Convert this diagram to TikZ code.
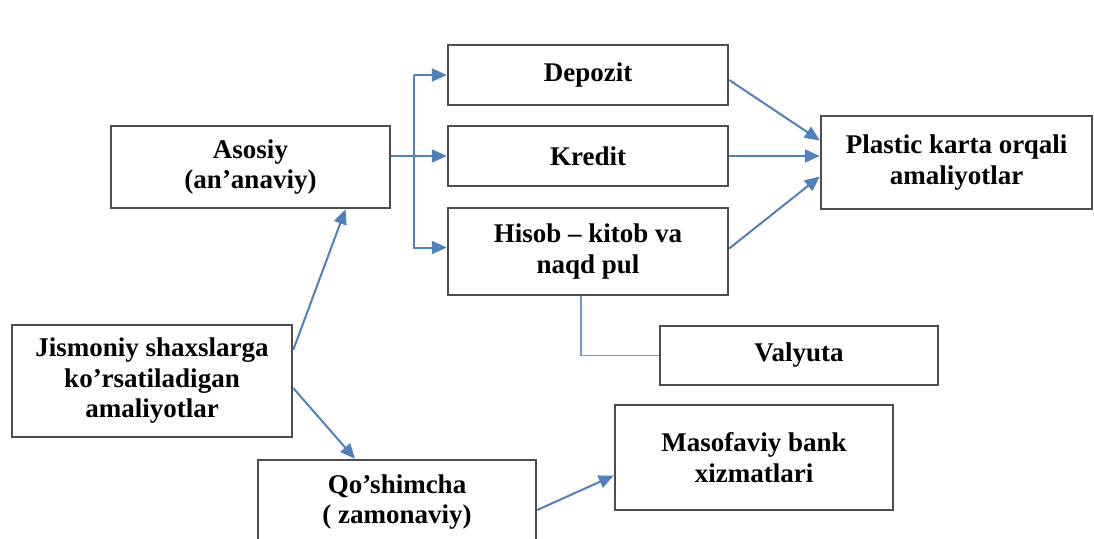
\documentclass[tikz,border=0pt]{standalone}
\usepackage{fontspec}
\setmainfont{Liberation Serif}
\usetikzlibrary{arrows.meta,calc}
\definecolor{boxgray}{HTML}{4D4D4D}
\definecolor{arrblue}{HTML}{4F81BD}
\begin{document}
\begin{tikzpicture}[x=1pt,y=-1pt,
  box/.style={draw=boxgray,line width=2.4pt,fill=white,align=center,inner sep=2pt,
    font=\fontsize{27}{30.5}\selectfont\bfseries},
  arr/.style={draw=arrblue,line width=2pt,-{Triangle[length=15pt,width=13pt]}},
  link/.style={draw=arrblue!80,line width=1.5pt}]
\clip (0,0) rectangle (1094,538);
\fill[white] (0,0) rectangle (1094,538);
\node[box,minimum width=280,minimum height=60] (dep) at (588,75) {\raisebox{-3pt}{Depozit}};
\node[box,minimum width=280,minimum height=60] (kre) at (588,156) {\raisebox{-2pt}{Kredit}};
\node[box,minimum width=280,minimum height=87] (his) at (588,251.5) {Hisob – kitob va\\naqd pul};
\node[box,minimum width=271,minimum height=93] (pla) at (956.5,162.5) {Plastic karta orqali\\amaliyotlar};
\node[box,minimum width=279,minimum height=82] (aso) at (250.5,167) {Asosiy\\(an’anaviy)};
\node[box,minimum width=280,minimum height=112] (jis) at (152,381) {Jismoniy shaxslarga\\ko’rsatiladigan\\amaliyotlar};
\node[box,minimum width=278,minimum height=59] (val) at (799,355.5) {\raisebox{-3pt}{Valyuta}};
\node[box,minimum width=278,minimum height=105] (mas) at (754,457.5) {Masofaviy bank\\xizmatlari};
\node[box,minimum width=278,minimum height=84] (qos) at (397,502) {Qo’shimcha\\( zamonaviy)};
\coordinate (bx) at (414,0);
% Asosiy to the three boxes
\draw[arr] (kre.west -| aso.east) -- (kre.west);
\draw[arr] (bx |- dep.west) -- (dep.west);
\draw[arr] (bx |- dep.west) -- ($(bx |- his.west)+(0,-4)$) -- ($(his.west)+(0,-4)$);
% to Plastic
\draw[arr] ($(dep.east)+(0,5)$) -- ($(pla.west)+(0,-22)$);
\draw[arr] (kre.east) -- (kre.east -| pla.west);
\draw[arr] ($(his.east)+(0,-3)$) -- ($(pla.west)+(0,14)$);
% Hisob to Valyuta
\draw[link] ($(his.south)+(-7,0)$) |- (val.west);
% Jismoniy
\draw[arr] ($(jis.east)+(0,-31)$) -- ($(aso.south)+(95,0)$);
\draw[arr] ($(jis.east)+(0,7)$) -- ($(qos.north)+(-42,0)$);
% Qo'shimcha to Masofaviy
\draw[arr] ($(qos.east)+(0,8)$) -- ($(mas.west)+(0,18)$);
\end{tikzpicture}
\end{document}
